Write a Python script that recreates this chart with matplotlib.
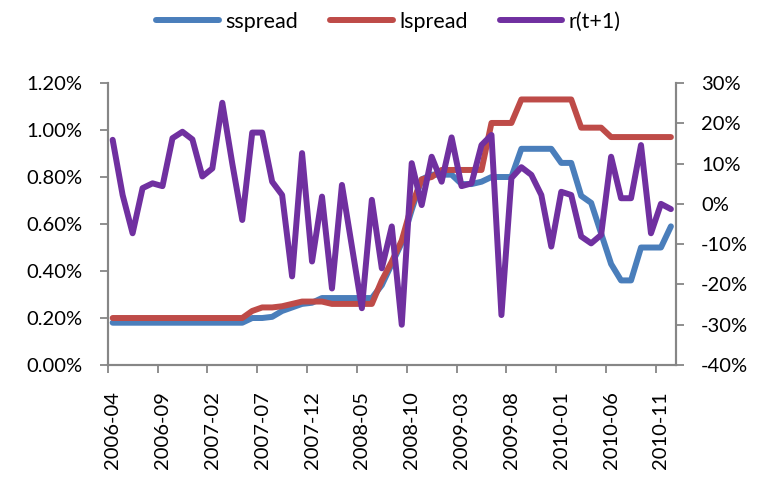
import numpy as np
import matplotlib.pyplot as plt
from matplotlib.ticker import FuncFormatter, FixedLocator

# monthly categories 2006-04 .. 2010-12
months = []
for y in range(2006, 2011):
    for m in range(1, 13):
        if y == 2006 and m < 4:
            continue
        months.append("%d-%02d" % (y, m))

# left axis, percent
sspread = [0.18, 0.18, 0.18, 0.18, 0.18, 0.18, 0.18, 0.18, 0.18, 0.18,
           0.18, 0.18, 0.18, 0.18, 0.20, 0.20, 0.205, 0.23, 0.245, 0.26,
           0.265, 0.285, 0.285, 0.285, 0.285, 0.285, 0.285, 0.34, 0.43, 0.52,
           0.66, 0.79, 0.81, 0.81, 0.81, 0.77, 0.77, 0.78, 0.80, 0.80,
           0.80, 0.92, 0.92, 0.92, 0.92, 0.86, 0.86, 0.72, 0.69, 0.56,
           0.43, 0.36, 0.36, 0.50, 0.50, 0.50, 0.59]
lspread = [0.20, 0.20, 0.20, 0.20, 0.20, 0.20, 0.20, 0.20, 0.20, 0.20,
           0.20, 0.20, 0.20, 0.20, 0.23, 0.245, 0.245, 0.25, 0.26, 0.27,
           0.27, 0.27, 0.26, 0.26, 0.26, 0.26, 0.26, 0.36, 0.44, 0.53,
           0.68, 0.79, 0.80, 0.83, 0.83, 0.83, 0.83, 0.83, 1.03, 1.03,
           1.03, 1.13, 1.13, 1.13, 1.13, 1.13, 1.13, 1.01, 1.01, 1.01,
           0.97, 0.97, 0.97, 0.97, 0.97, 0.97, 0.97]
# right axis, percent
r_next = [15.9, 2.2, -7.3, 3.9, 5.1, 4.4, 16.3, 17.9, 16.0, 6.8,
          8.8, 25.1, 10.0, -4.0, 17.7, 17.7, 5.5, 2.2, -18.0, 12.6,
          -14.3, 1.8, -21.0, 4.7, -10.6, -25.9, 1.0, -16.0, -5.6, -30.0,
          10.1, -0.3, 11.7, 5.5, 16.5, 4.4, 5.1, 14.6, 17.1, -27.6,
          6.4, 9.1, 7.2, 2.2, -10.6, 3.0, 2.2, -8.1, -9.8, -7.7,
          11.7, 1.4, 1.4, 14.6, -7.3, 0.0, -1.3]

x = np.arange(len(months))
s = np.array(sspread) / 100
l = np.array(lspread) / 100
r = np.array(r_next) / 100

plt.rcParams['font.family'] = ['Lato', 'DejaVu Sans']
plt.rcParams['font.size'] = 14.5
gray = '#868686'

fig = plt.figure(figsize=(7.62, 4.95), dpi=100)
ax = fig.add_axes([0.1413, 0.2626, 0.7457, 0.5697])
ax2 = ax.twinx()

kw = dict(lw=4.3, solid_capstyle='round', solid_joinstyle='round')
l1, = ax.plot(x, s, color='#4A7EBB', label='sspread', **kw)
l2, = ax.plot(x, l, color='#BE4B48', label='lspread', **kw)
l3, = ax2.plot(x, r, color='#7030A0', label='r(t+1)', **kw)

ax.set_xlim(-0.5, len(months) - 0.5)
ax.set_ylim(0, 0.012)
ax.set_yticks(np.arange(0, 0.0121, 0.002))
ax.yaxis.set_major_formatter(FuncFormatter(lambda v, p: '%.2f%%' % (v * 100)))
ax2.set_ylim(-0.40, 0.30)
ax2.set_yticks(np.arange(-0.40, 0.301, 0.10))
ax2.yaxis.set_major_formatter(FuncFormatter(lambda v, p: '%d%%' % round(v * 100)))

# tick marks between categories, labels on categories
lab_pos = x[::5]
ax.xaxis.set_major_locator(FixedLocator(lab_pos - 0.5))
ax.xaxis.set_major_formatter(FuncFormatter(lambda v, p: ''))
ax.xaxis.set_minor_locator(FixedLocator(lab_pos))
ax.set_xticklabels([months[i] for i in lab_pos], minor=True, rotation=90)
ax.tick_params(axis='x', which='major', length=6, width=1.3, color=gray)
ax.tick_params(axis='x', which='minor', length=0, pad=19)
ax.tick_params(axis='y', length=6, width=1.3, color=gray, pad=12)
ax2.tick_params(axis='y', length=6, width=1.3, color=gray, pad=12)

for a in (ax, ax2):
    a.spines['top'].set_visible(False)
    for sp in ('left', 'right', 'bottom'):
        a.spines[sp].set_color(gray)
        a.spines[sp].set_linewidth(1.5)

fig.legend(handles=[l1, l2, l3], loc='upper center', bbox_to_anchor=(0.51, 1.015),
           ncol=3, frameon=False, fontsize=15.5, handlelength=2.9,
           handletextpad=0.3, columnspacing=1.5)

plt.savefig('out.png', dpi=100)
